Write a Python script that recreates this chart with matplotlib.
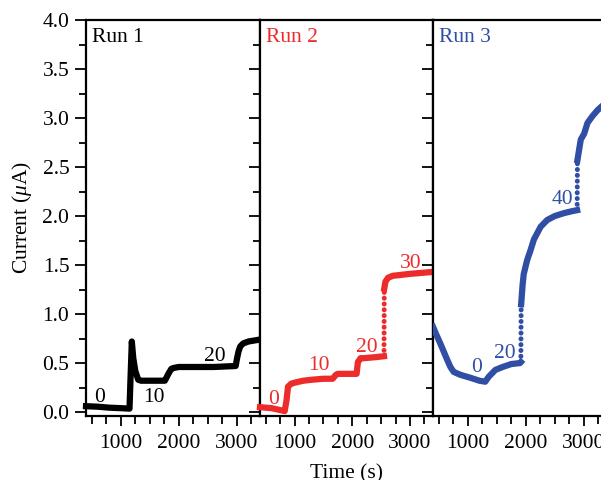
import matplotlib
matplotlib.use("Agg")
import matplotlib.pyplot as plt
from matplotlib.ticker import MultipleLocator

plt.rcParams['font.family'] = ['Liberation Serif', 'DejaVu Serif']
plt.rcParams['mathtext.fontset'] = 'custom'
plt.rcParams['mathtext.it'] = 'Liberation Serif:italic'
plt.rcParams['mathtext.rm'] = 'Liberation Serif'

BLACK = '#000000'
RED = '#EE2B2B'
BLUE = '#2F4EA4'

# ---- Run 1 (black) ----
t1 = [400, 600, 800, 1000, 1150, 1165, 1190, 1215, 1250, 1300, 1350, 1500, 1700,
      1760, 1820, 1870, 1910, 2000, 2300, 2600, 2980, 3005, 3030, 3060, 3110, 3200, 3400]
i1 = [0.06, 0.055, 0.045, 0.04, 0.035, 0.30, 0.72, 0.55, 0.42, 0.33, 0.32, 0.32, 0.32,
      0.32, 0.39, 0.44, 0.45, 0.46, 0.46, 0.46, 0.47, 0.55, 0.62, 0.67, 0.70, 0.72, 0.74]

# ---- Run 2 (red) ----
t2a = [400, 600, 828, 860, 886, 943, 1000, 1150, 1300, 1500, 1660, 1715, 1750,
       2075, 2098, 2144, 2200, 2400, 2550]
i2a = [0.05, 0.04, 0.01, 0.12, 0.26, 0.29, 0.30, 0.32, 0.33, 0.34, 0.34, 0.38, 0.39,
       0.39, 0.51, 0.55, 0.55, 0.56, 0.57]
t2b = [2555, 2575, 2620, 2700, 2850, 3000, 3200, 3400]
i2b = [1.26, 1.33, 1.37, 1.39, 1.40, 1.41, 1.42, 1.43]

# ---- Run 3 (blue) ----
t3a = [400, 450, 526, 640, 700, 757, 872, 1045, 1200, 1300, 1360, 1475, 1600, 1750, 1900, 1915]
i3a = [0.87, 0.80, 0.70, 0.54, 0.46, 0.41, 0.38, 0.35, 0.32, 0.31, 0.36, 0.43, 0.46, 0.49, 0.50, 0.51]
t3b = [1920, 1945, 1965, 2023, 2081, 2139, 2255, 2370, 2500, 2660, 2800, 2885]
i3b = [1.10, 1.30, 1.41, 1.55, 1.65, 1.76, 1.89, 1.96, 2.00, 2.03, 2.05, 2.06]
t3c = [2890, 2920, 2948, 3006, 3064, 3150, 3237, 3310, 3400]
i3c = [2.57, 2.68, 2.78, 2.84, 2.95, 3.02, 3.08, 3.12, 3.16]

run_names = ['Run 1', 'Run 2', 'Run 3']
run_colors = [BLACK, RED, BLUE]

# annotations: (text, x, y)
ann1 = [('0', 640, 0.15), ('10', 1570, 0.15), ('20', 2620, 0.57)]
ann2 = [('0', 640, 0.13), ('10', 1430, 0.48), ('20', 2260, 0.66), ('30', 3010, 1.52)]
ann3 = [('0', 1150, 0.45), ('20', 1640, 0.60), ('40', 2630, 2.17)]

W, H = 601, 480
fig = plt.figure(figsize=(W / 100, H / 100), dpi=100)

def px_axes(l, r, t, b):
    return fig.add_axes([l / W, 1 - b / H, (r - l) / W, (b - t) / H])

ax1 = px_axes(86, 260, 20, 416)
ax2 = px_axes(260, 433, 20, 416)
ax3 = px_axes(433, 607, 20, 416)
axes = [ax1, ax2, ax3]

FS = 15.5
for k, ax in enumerate(axes):
    ax.set_xlim(400, 3400)
    ax.set_ylim(-0.04, 4.0)
    ax.xaxis.set_major_locator(MultipleLocator(1000))
    ax.xaxis.set_minor_locator(MultipleLocator(250))
    ax.yaxis.set_major_locator(MultipleLocator(0.5))
    ax.yaxis.set_minor_locator(MultipleLocator(0.25))
    ax.tick_params(axis='both', which='both', direction='out', width=1.3,
                   top=False, right=False, labelsize=FS)
    ax.tick_params(axis='y', which='major', length=8, pad=4)
    ax.tick_params(axis='y', which='minor', length=5)
    ax.tick_params(axis='x', which='major', length=7, pad=6)
    ax.tick_params(axis='x', which='minor', length=6)
    for s in ax.spines.values():
        s.set_linewidth(1.6)
    if k > 0:
        ax.tick_params(axis='y', labelleft=False)
    ax.annotate(run_names[k], xy=(0, 1), xycoords='axes fraction',
                xytext=(6, -17), textcoords='offset pixels',
                ha='left', va='center', fontsize=FS, color=run_colors[k])

ax1.yaxis.set_major_formatter(matplotlib.ticker.FormatStrFormatter('%.1f'))

LW = 4.5
DOT_LW = 3.6
DOTS = (0, (0.01, 1.15))
ax1.plot(t1, i1, color=BLACK, lw=LW, solid_joinstyle='round', clip_on=False, zorder=3)

ax2.plot(t2a, i2a, color=RED, lw=LW, solid_joinstyle='round', clip_on=False, zorder=3)
ax2.plot([t2a[-1], t2b[0]], [i2a[-1], i2b[0]], color=RED, lw=DOT_LW, ls=DOTS,
         dash_capstyle='round', zorder=3)
ax2.plot(t2b, i2b, color=RED, lw=LW, solid_joinstyle='round', clip_on=False, zorder=3)

ax3.plot(t3a, i3a, color=BLUE, lw=LW, solid_joinstyle='round', zorder=3)
ax3.plot([t3a[-1], t3b[0]], [i3a[-1], i3b[0]], color=BLUE, lw=DOT_LW, ls=DOTS,
         dash_capstyle='round', zorder=3)
ax3.plot(t3b, i3b, color=BLUE, lw=LW, solid_joinstyle='round', zorder=3)
ax3.plot([t3b[-1], t3c[0]], [i3b[-1], i3c[0]], color=BLUE, lw=DOT_LW, ls=DOTS,
         dash_capstyle='round', zorder=3)
ax3.plot(t3c, i3c, color=BLUE, lw=LW, solid_joinstyle='round', zorder=3)

for ax, anns, c in [(ax1, ann1, BLACK), (ax2, ann2, RED), (ax3, ann3, BLUE)]:
    for txt, x, y in anns:
        ax.text(x, y, txt, color=c, fontsize=FS, ha='center', va='center', zorder=4)

ax1.set_ylabel(r'Current ($\mathit{\mu}$A)', fontsize=FS, labelpad=6)
ax2.set_xlabel('Time (s)', fontsize=FS, labelpad=8)

fig.savefig('out.png', dpi=100)
